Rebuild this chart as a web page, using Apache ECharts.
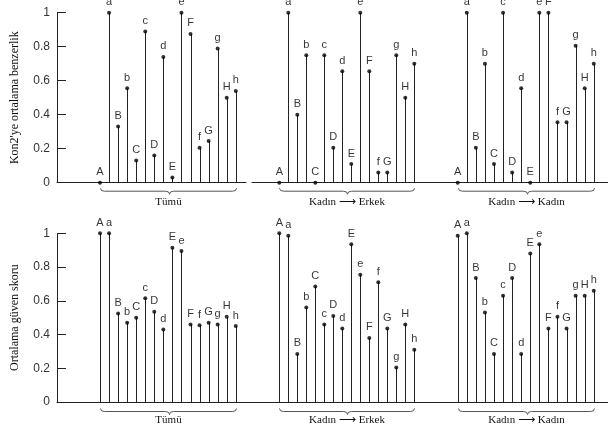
<!DOCTYPE html>
<html><head><meta charset="utf-8">
<script src="https://cdn.jsdelivr.net/npm/echarts@6/dist/echarts.min.js"></script>
<style>html,body{margin:0;padding:0;background:#fff}#c{width:608px;height:432px}</style>
</head><body><div id="c"></div>
<script>
// ---- data ----
var pointLabels = ['A','a','B','b','C','c','D','d','E','e','F','f','G','g','H','h'];
var groupNames = ['Tümü', 'Kadın ⟶ Erkek', 'Kadın ⟶ Kadın'];
var yTitleTop = "Kon2'ye ortalama benzerlik";
var yTitleBottom = 'Ortalama güven skoru';
var yTicks = [0, 0.2, 0.4, 0.6, 0.8, 1];

var simAll   = [0, 1, 0.33, 0.555, 0.13, 0.89, 0.16, 0.74, 0.03, 1, 0.875, 0.205, 0.245, 0.79, 0.50, 0.54];
var simKE    = [0, 1, 0.40, 0.75, 0, 0.75, 0.205, 0.655, 0.11, 1, 0.655, 0.06, 0.06, 0.75, 0.50, 0.70];
var simKK    = [0, 1, 0.205, 0.70, 0.11, 1, 0.06, 0.555, 0, 1, 1, 0.355, 0.355, 0.805, 0.555, 0.70];

var confAll  = [1, 1, 0.525, 0.47, 0.50, 0.615, 0.535, 0.43, 0.915, 0.895, 0.46, 0.455, 0.47, 0.46, 0.505, 0.45];
var confKE   = [1, 0.985, 0.285, 0.56, 0.685, 0.46, 0.51, 0.435, 0.935, 0.755, 0.38, 0.71, 0.435, 0.205, 0.46, 0.31];
var confKK   = [0.985, 1, 0.735, 0.53, 0.285, 0.63, 0.735, 0.285, 0.88, 0.935, 0.435, 0.505, 0.435, 0.63, 0.63, 0.66];

var panels = [
  [simAll, simKE, simKK],
  [confAll, confKE, confKK]
];

// ---- layout ----
var rowTop = [12.7, 233.3], rowH = [170, 168.7];
var colX = [[57, 246], [252, 436], [436, 608]];
var colXB = [[57, 252], [252, 436], [436, 608]];
var firstX = [100, 279.3, 457.7], stepX = [9.05, 9.0, 9.07];

var chart = echarts.init(document.getElementById('c'), null, {renderer: 'canvas'});
var grids = [], xAxes = [], yAxes = [], series = [];
var sansFont = 'Liberation Sans, Arial, sans-serif';
var serifFont = 'Liberation Serif, Times New Roman, DejaVu Serif, serif';

function richName(s) {
  var parts = s.split(' ⟶ ');
  if (parts.length === 1) return '{t|' + s + '}';
  return '{t|' + parts[0] + ' }{a|⟶}{t| ' + parts[1] + '}';
}

for (var r = 0; r < 2; r++) {
  for (var c = 0; c < 3; c++) {
    var idx = r * 3 + c;
    var cx = r === 0 ? colX[c] : colXB[c];
    grids.push({left: cx[0], top: rowTop[r], width: cx[1] - cx[0], height: rowH[r]});
    xAxes.push({
      type: 'value', gridIndex: idx,
      min: (cx[0] - firstX[c]) / stepX[c], max: (cx[1] - firstX[c]) / stepX[c],
      axisLine: {show: true, onZero: false, lineStyle: {color: '#222', width: 1}},
      axisTick: {show: false}, axisLabel: {show: false}, splitLine: {show: false}
    });
    yAxes.push({
      type: 'value', gridIndex: idx, min: 0, max: 1, interval: 0.2,
      show: c === 0,
      name: c === 0 ? (r === 0 ? yTitleTop : yTitleBottom) : '',
      nameLocation: 'middle', nameGap: 36, nameRotate: 90,
      nameTextStyle: {fontFamily: serifFont, fontSize: 12, color: '#111'},
      axisLine: {show: true, onZero: false, lineStyle: {color: '#222', width: 1}},
      axisTick: {show: true, inside: true, length: 9, lineStyle: {color: '#222'}},
      axisLabel: {fontFamily: sansFont, fontSize: 12, color: '#333', margin: 7,
        formatter: function (v) { return String(+v.toFixed(1)); }},
      splitLine: {show: false}
    });
    var vals = panels[r][c];
    var d = vals.map(function (v, i) { return [i, v]; });
    series.push({
      type: 'custom', xAxisIndex: idx, yAxisIndex: idx, data: d, silent: true,
      renderItem: function (params, api) {
        var p0 = api.coord([api.value(0), 0]);
        var p1 = api.coord([api.value(0), api.value(1)]);
        var x = Math.round(p0[0]) + 0.5;
        return {type: 'line', shape: {x1: x, y1: p0[1], x2: x, y2: p1[1]},
          style: {stroke: '#222', lineWidth: 1}};
      }
    });
    series.push({
      type: 'scatter', xAxisIndex: idx, yAxisIndex: idx, data: d, silent: true,
      symbol: 'circle', symbolSize: 4, itemStyle: {color: '#000'},
      label: {show: true, position: 'top', distance: 3, fontFamily: sansFont, fontSize: 11, color: '#000',
        formatter: function (p) { return pointLabels[p.dataIndex]; }}
    });
    // brace with group label
    (function (rr, cc) {
      series.push({
        type: 'custom', xAxisIndex: idx, yAxisIndex: idx, data: [[0, 15]], silent: true,
        renderItem: function (params, api) {
          var a = api.coord([0, 0]), b = api.coord([15, 0]);
          var y = a[1] + (rr === 0 ? 8.5 : 9.5);
          var x0 = Math.round(a[0]) + 0.5, x1 = Math.round(b[0]) + 0.5, xm = Math.round((x0 + x1) / 2) + 0.5;
          var path = 'M' + x0 + ' ' + (y - 3) + ' Q' + x0 + ' ' + y + ' ' + (x0 + 4) + ' ' + y +
            ' L' + (xm - 4) + ' ' + y + ' Q' + xm + ' ' + y + ' ' + xm + ' ' + (y + 3) +
            ' Q' + xm + ' ' + y + ' ' + (xm + 4) + ' ' + y +
            ' L' + (x1 - 4) + ' ' + y + ' Q' + x1 + ' ' + y + ' ' + x1 + ' ' + (y - 3);
          return {type: 'group', children: [
            {type: 'path', shape: {pathData: path}, style: {stroke: '#555', lineWidth: 1, fill: null}},
            {type: 'text', style: {text: richName(groupNames[cc]), x: (x0 + x1) / 2, y: y + (rr === 0 ? 11 : 8.5),
              align: 'center', verticalAlign: 'middle',
              rich: {
                t: {fontFamily: serifFont, fontSize: 11, fill: '#111', color: '#111'},
                a: {fontFamily: 'DejaVu Sans', fontSize: 12, fill: '#111', color: '#111'}
              }}}
          ]};
        }
      });
    })(r, c);
  }
}

chart.setOption({
  animation: false,
  backgroundColor: '#fff',
  grid: grids, xAxis: xAxes, yAxis: yAxes, series: series
});
</script></body></html>
